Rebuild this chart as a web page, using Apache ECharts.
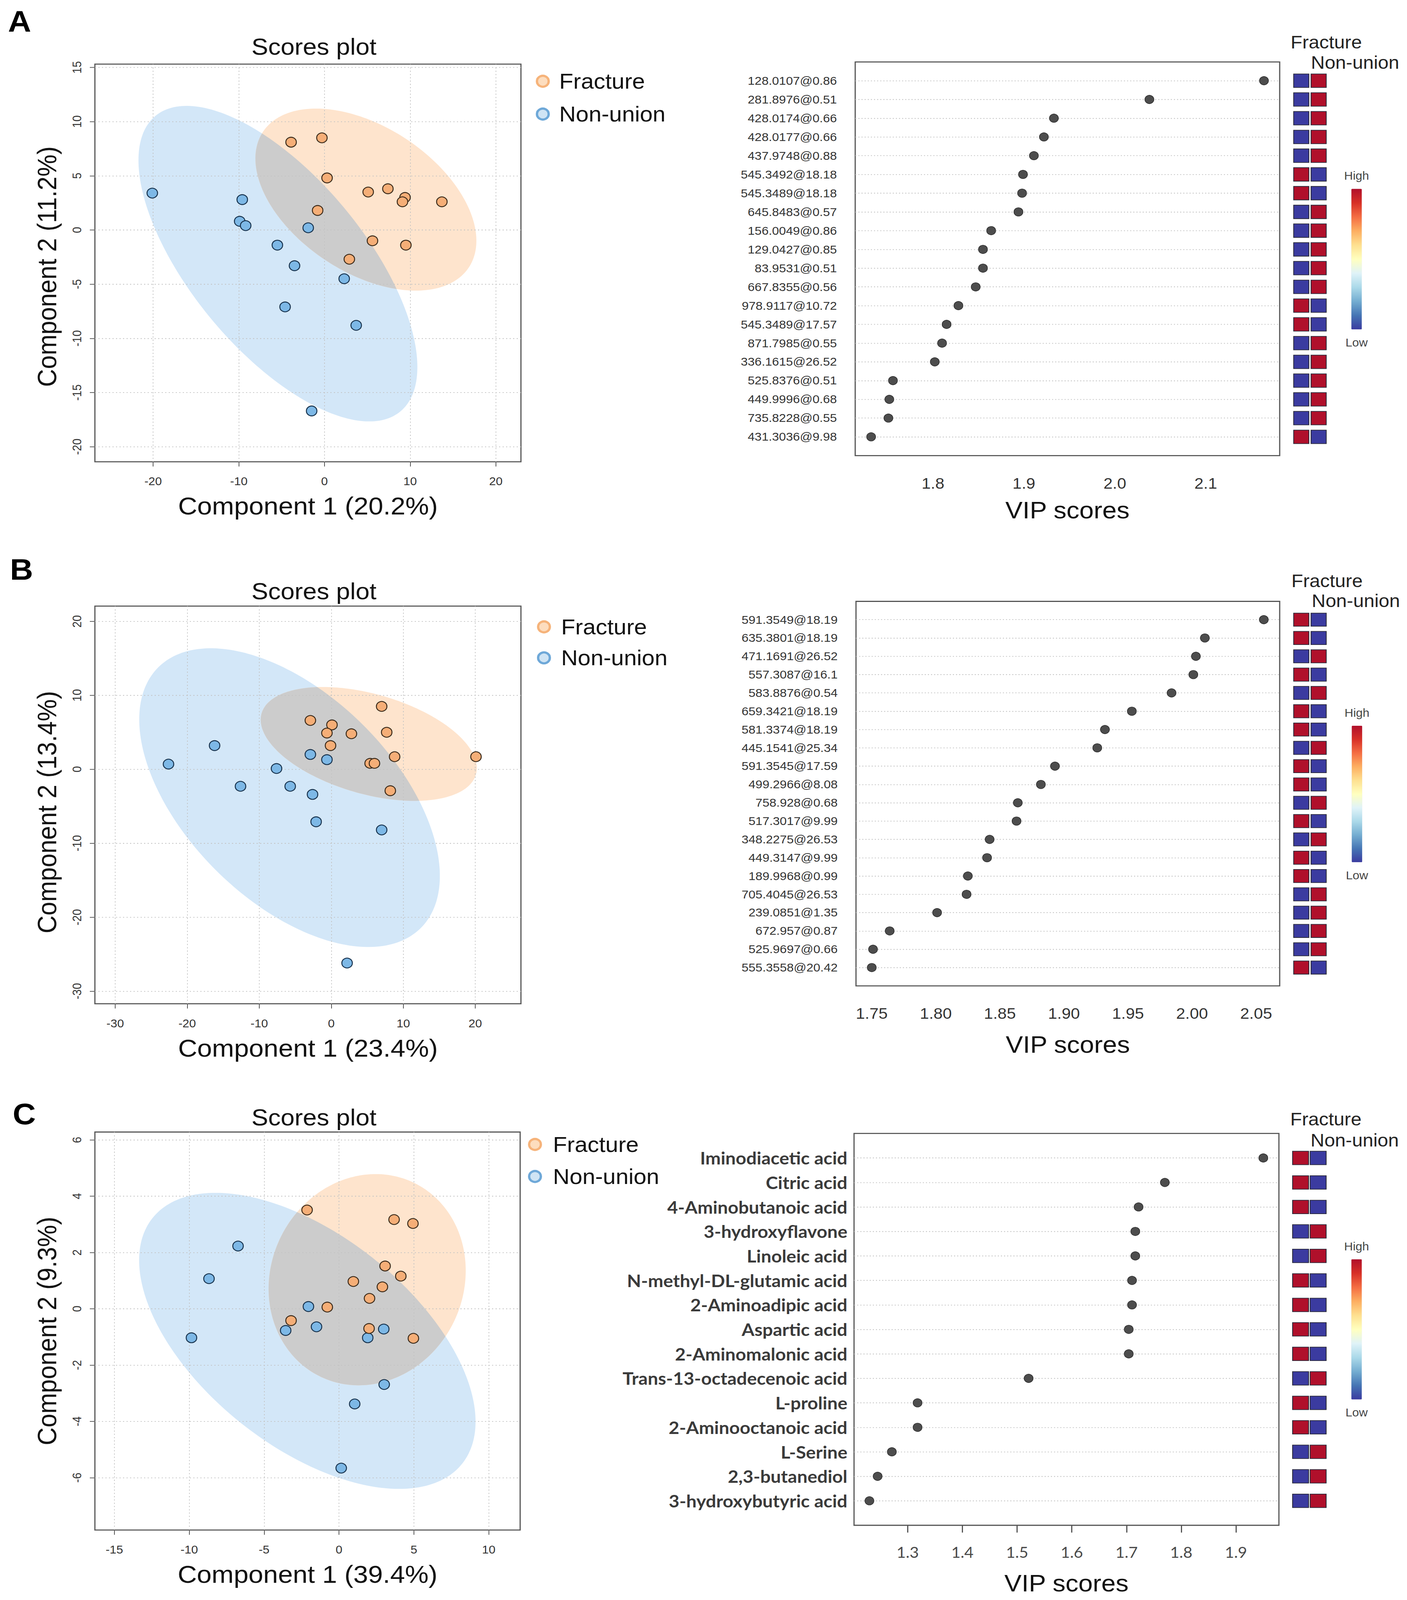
<!DOCTYPE html>
<html><head><meta charset="utf-8">
<script src="https://cdn.jsdelivr.net/npm/echarts@6/dist/echarts.min.js"></script>
<style>html,body{margin:0;padding:0;background:#fff;overflow:hidden}#c{width:3603px;height:4390px;transform-origin:0 0}</style>
</head><body><div id="c"></div>
<script>
// ---------------- DATA ----------------
const groups = ['Fracture', 'Non-union'];

// Scores (component 1, component 2)
const scoresA_fracture = [[-3.9,8.1],[-0.3,8.5],[0.3,4.8],[5.1,3.5],[7.4,3.8],[9.4,3.0],[9.1,2.6],[13.7,2.6],[-0.8,1.8],[5.6,-1.0],[9.5,-1.4],[2.9,-2.7]];
const scoresA_nonunion = [[-20.1,3.4],[-9.6,2.8],[-9.9,0.8],[-9.2,0.4],[-1.9,0.2],[-5.5,-1.4],[-3.5,-3.3],[2.3,-4.5],[-4.6,-7.1],[3.7,-8.8],[-1.5,-16.7]];
const scoresB_fracture = [[-2.9,6.6],[0.1,6.0],[-0.6,4.9],[2.8,4.8],[-0.1,3.2],[7.0,8.5],[7.7,5.0],[8.8,1.7],[5.4,0.8],[6.0,0.8],[8.2,-2.9],[20.1,1.7]];
const scoresB_nonunion = [[-22.6,0.7],[-16.2,3.2],[-12.6,-2.3],[-7.6,0.1],[-5.7,-2.3],[-2.9,2.0],[-0.6,1.3],[-2.6,-3.4],[-2.1,-7.1],[7.0,-8.2],[2.2,-26.2]];
const scoresC_fracture = [[-2.13,3.51],[3.68,3.17],[4.94,3.03],[3.08,1.52],[4.13,1.16],[0.96,0.97],[2.90,0.78],[2.04,0.37],[-0.78,0.06],[-3.20,-0.42],[2.01,-0.70],[4.97,-1.05]];
const scoresC_nonunion = [[-6.74,2.23],[-8.68,1.07],[-9.85,-1.03],[-2.04,0.08],[-3.56,-0.77],[-1.50,-0.64],[1.92,-1.03],[2.99,-0.72],[3.02,-2.69],[1.05,-3.38],[0.15,-5.66]];

const scoresA_xTicks = [-20,-10,0,10,20];
const scoresA_yTicks = [-20,-15,-10,-5,0,5,10,15];
const scoresB_xTicks = [-30,-20,-10,0,10,20];
const scoresB_yTicks = [-30,-20,-10,0,10,20];
const scoresC_xTicks = [-15,-10,-5,0,5,10];
const scoresC_yTicks = [-6,-4,-2,0,2,4,6];

// VIP features and scores
const vipA_features = ['128.0107@0.86','281.8976@0.51','428.0174@0.66','428.0177@0.66','437.9748@0.88','545.3492@18.18','545.3489@18.18','645.8483@0.57','156.0049@0.86','129.0427@0.85','83.9531@0.51','667.8355@0.56','978.9117@10.72','545.3489@17.57','871.7985@0.55','336.1615@26.52','525.8376@0.51','449.9996@0.68','735.8228@0.55','431.3036@9.98'];
const vipA_scores = [2.164,2.038,1.933,1.922,1.911,1.899,1.898,1.894,1.864,1.855,1.855,1.847,1.828,1.815,1.810,1.802,1.756,1.752,1.751,1.732];
const vipA_fractureHigh = [0,0,0,0,0,1,1,0,0,0,0,0,1,1,0,0,0,0,0,1];
const vipA_nonunionHigh = [1,1,1,1,1,0,0,1,1,1,1,1,0,0,1,1,1,1,1,0];
const vipA_ticks = [1.8,1.9,2.0,2.1];

const vipB_features = ['591.3549@18.19','635.3801@18.19','471.1691@26.52','557.3087@16.1','583.8876@0.54','659.3421@18.19','581.3374@18.19','445.1541@25.34','591.3545@17.59','499.2966@8.08','758.928@0.68','517.3017@9.99','348.2275@26.53','449.3147@9.99','189.9968@0.99','705.4045@26.53','239.0851@1.35','672.957@0.87','525.9697@0.66','555.3558@20.42'];
const vipB_scores = [2.056,2.010,2.003,2.001,1.984,1.953,1.932,1.926,1.893,1.882,1.864,1.863,1.842,1.840,1.825,1.824,1.801,1.764,1.751,1.750];
const vipB_fractureHigh = [1,1,0,1,0,1,1,0,1,1,0,1,0,1,1,0,0,0,0,1];
const vipB_nonunionHigh = [0,0,1,0,1,0,0,1,0,0,1,0,1,0,0,1,1,1,1,0];
const vipB_ticks = [1.75,1.80,1.85,1.90,1.95,2.00,2.05];

const vipC_features = ['Iminodiacetic acid','Citric acid','4-Aminobutanoic acid','3-hydroxyflavone','Linoleic acid','N-methyl-DL-glutamic acid','2-Aminoadipic acid','Aspartic acid','2-Aminomalonic acid','Trans-13-octadecenoic acid','L-proline','2-Aminooctanoic acid','L-Serine','2,3-butanediol','3-hydroxybutyric acid'];
const vipC_scores = [1.950,1.770,1.722,1.716,1.716,1.710,1.710,1.704,1.704,1.521,1.318,1.318,1.271,1.245,1.230];
const vipC_fractureHigh = [1,1,1,0,0,1,1,1,1,0,1,1,0,0,0];
const vipC_nonunionHigh = [0,0,0,1,1,0,0,0,0,1,0,0,1,1,1];
const vipC_ticks = [1.3,1.4,1.5,1.6,1.7,1.8,1.9];

// ---------------- LAYOUT / STYLE ----------------
const FONT = 'Liberation Sans';
const heatPalette = ['#3B3BA0','#4575B4','#74ADD1','#ABD9E9','#E0F3F8','#FFFFBF','#FEE090','#FDAE61','#F46D43','#D73027','#B0102B'];
const COL = {
  fr: '#F5AE77', nu: '#7DB8E6',
  frEll: '#FEE4CD', nuEll: '#D3E7F8', overlap: '#CCCCCC'
};

const panels = [
  { letter:'A', letterPos:[50,58], titleY:128,
    fr:scoresA_fracture, nu:scoresA_nonunion, xTicks:scoresA_xTicks, yTicks:scoresA_yTicks,
    xName:'Component 1 (20.2%)', yName:'Component 2 (11.2%)', yNamePad:[0,20,0,0],
    xExt:[-26.8,22.93], yExt:[-21.39,15.3], grid:[243,176,1091,1091],
    legend:{left:1372, top:193.5, iw:74, gap:31},
    feats:vipA_features, vip:vipA_scores, frH:vipA_fractureHigh, nuH:vipA_nonunionHigh, vTicks:vipA_ticks, digits:1,
    vExt:[1.7145,2.1813], vGrid:[2190,170,1087,1080], hGrid:[3310,170,89,1080], rows:21,
    cell:[39,37], hdr:[[3305,116],[3357,172]], vm:{left:3442, top:467, h:386},
    vLabel:{margin:47, fontSize:32, color:'#333', fontFamily:FONT}, vTick:false, vNameGap:117, vLabelMargin:55 },
  { letter:'B', letterPos:[55,1562], titleY:1622,
    fr:scoresB_fracture, nu:scoresB_nonunion, xTicks:scoresB_xTicks, yTicks:scoresB_yTicks,
    xName:'Component 1 (23.4%)', yName:'Component 2 (13.4%)', yNamePad:[0,40,0,0],
    xExt:[-32.82,26.34], yExt:[-31.7,22.06], grid:[243,1663,1091,1091],
    legend:{left:1375, top:1690.5, iw:78, gap:26},
    feats:vipB_features, vip:vipB_scores, frH:vipB_fractureHigh, nuH:vipB_nonunionHigh, vTicks:vipB_ticks, digits:2,
    vExt:[1.7377,2.0684], vGrid:[2192,1650,1085,1055], hGrid:[3310,1650,89,1055], rows:21,
    cell:[39,36], hdr:[[3307,1594],[3359,1649]], vm:{left:3443, top:1940, h:375},
    vLabel:{margin:47, fontSize:32, color:'#333', fontFamily:FONT}, vTick:false, vNameGap:128, vLabelMargin:55 },
  { letter:'C', letterPos:[62,3056], titleY:3066,
    fr:scoresC_fracture, nu:scoresC_nonunion, xTicks:scoresC_xTicks, yTicks:scoresC_yTicks,
    xName:'Component 1 (39.4%)', yName:'Component 2 (9.3%)', yNamePad:[0,0,0,0],
    xExt:[-16.3,12.1], yExt:[-7.86,6.28], grid:[243,3106,1089,1092],
    legend:{left:1352, top:3110.5, iw:82, gap:29},
    feats:vipC_features, vip:vipC_scores, frH:vipC_fractureHigh, nuH:vipC_nonunionHigh, vTicks:vipC_ticks, digits:1,
    vExt:[1.2019,1.9785], vGrid:[2187,3110,1088,1075], hGrid:[3308,3110,90,1075], rows:16,
    cell:[41,37], hdr:[[3304,3071],[3356,3129]], vm:{left:3442, top:3404, h:385},
    vLabel:{margin:17, fontSize:47, color:'#3a3a3a', fontFamily:'Lato', fontWeight:'bold'}, vTick:true, vNameGap:126, vLabelMargin:53 }
];

// 95% confidence ellipse from the group's own scores (counter-clockwise)
function confidenceEllipse(pts, n) {
  const m = pts.length;
  const mx = pts.reduce((s,p)=>s+p[0],0)/m, my = pts.reduce((s,p)=>s+p[1],0)/m;
  let sxx=0, syy=0, sxy=0;
  pts.forEach(p=>{const dx=p[0]-mx, dy=p[1]-my; sxx+=dx*dx; syy+=dy*dy; sxy+=dx*dy;});
  sxx/=(m-1); syy/=(m-1); sxy/=(m-1);
  const t = Math.sqrt(5.991464547);
  const tr = sxx+syy, det = sxx*syy-sxy*sxy;
  const disc = Math.sqrt(Math.max(tr*tr/4-det,0));
  const l1 = tr/2+disc, l2 = Math.max(tr/2-disc,0);
  const ang = 0.5*Math.atan2(2*sxy, sxx-syy);
  const out = [];
  for (let i=0;i<n;i++){
    const th = 2*Math.PI*i/n;
    const u = t*Math.sqrt(l1)*Math.cos(th), v = t*Math.sqrt(l2)*Math.sin(th);
    out.push([mx+u*Math.cos(ang)-v*Math.sin(ang), my+u*Math.sin(ang)+v*Math.cos(ang)]);
  }
  return out;
}
// Sutherland-Hodgman clip of subject polygon by convex CCW polygon
function clipPolygon(subject, clip) {
  let output = subject.slice();
  const inside = (p,a,b)=>((b[0]-a[0])*(p[1]-a[1])-(b[1]-a[1])*(p[0]-a[0]))>=0;
  const inter = (p,q,a,b)=>{
    const A1=q[1]-p[1], B1=p[0]-q[0], C1=A1*p[0]+B1*p[1];
    const A2=b[1]-a[1], B2=a[0]-b[0], C2=A2*a[0]+B2*a[1];
    const d=A1*B2-A2*B1; return [(B2*C1-B1*C2)/d,(A1*C2-A2*C1)/d];
  };
  for (let i=0;i<clip.length && output.length;i++){
    const a=clip[i], b=clip[(i+1)%clip.length];
    const input=output; output=[];
    for (let j=0;j<input.length;j++){
      const p=input[j], q=input[(j+1)%input.length];
      const pin=inside(p,a,b), qin=inside(q,a,b);
      if (pin){ output.push(p); if(!qin) output.push(inter(p,q,a,b)); }
      else if (qin){ output.push(inter(p,q,a,b)); }
    }
  }
  return output;
}

const grids=[], xAxes=[], yAxes=[], series=[], visualMaps=[], legends=[], graphics=[];
const gridLineStyle = {color:'#c2c2c2', width:2, type:[3,6]};

function polySeries(poly, fill, gi){
  return {type:'custom', name:'ellipse', xAxisIndex:gi, yAxisIndex:gi, silent:true, z:0, clip:true,
    data:[poly[0]],
    renderItem:(params, api)=>({type:'polygon', shape:{points:poly.map(p=>api.coord(p))}, style:{fill:fill}})};
}

panels.forEach((P, k) => {
  const gi = k*3;
  // ---- scores grid ----
  grids.push({left:P.grid[0], top:P.grid[1], width:P.grid[2], height:P.grid[3], show:true, borderColor:'#555', borderWidth:3, backgroundColor:'transparent'});
  xAxes.push({gridIndex:gi, type:'value', min:P.xExt[0], max:P.xExt[1], z:1,
    name:P.xName, nameLocation:'middle', nameGap:87, nameTextStyle:{fontSize:68, color:'#111', fontFamily:FONT},
    axisLine:{show:false, onZero:false},
    axisTick:{show:true, length:13, inside:false, customValues:P.xTicks, lineStyle:{color:'#555', width:2}},
    axisLabel:{customValues:P.xTicks, fontSize:31, color:'#333', margin:38, fontFamily:FONT},
    splitLine:{show:true, lineStyle:gridLineStyle}});
  yAxes.push({gridIndex:gi, type:'value', min:P.yExt[0], max:P.yExt[1], z:1,
    name:P.yName, nameLocation:'middle', nameGap:89, nameTextStyle:{fontSize:68, color:'#111', fontFamily:FONT, padding:P.yNamePad},
    axisLine:{show:false, onZero:false},
    axisTick:{show:true, length:13, inside:false, customValues:P.yTicks, lineStyle:{color:'#555', width:2}},
    axisLabel:{customValues:P.yTicks, fontSize:31, color:'#333', margin:30, rotate:90, fontFamily:FONT},
    splitLine:{show:true, lineStyle:gridLineStyle}});

  // ---- VIP grid ----
  grids.push({left:P.vGrid[0], top:P.vGrid[1], width:P.vGrid[2], height:P.vGrid[3], show:true, borderColor:'#555', borderWidth:3, backgroundColor:'transparent'});
  const rowIdx = P.feats.map((_,i)=>i+1);
  xAxes.push({gridIndex:gi+1, type:'value', min:P.vExt[0], max:P.vExt[1], z:1,
    name:'VIP scores', nameLocation:'middle', nameGap:P.vNameGap, nameTextStyle:{fontSize:66, color:'#111', fontFamily:FONT},
    axisLine:{show:false, onZero:false},
    axisTick:{show:P.vTick, length:20, customValues:P.vTicks, lineStyle:{color:'#555', width:3}},
    axisLabel:{customValues:P.vTicks, fontSize:P.vTick?41:42, color:P.vTick?'#4a4a4a':'#333', margin:P.vLabelMargin,
      fontFamily:P.vTick?'Lato':FONT, formatter:(v)=>Number(v).toFixed(P.digits)},
    splitLine:{show:false}});
  yAxes.push({gridIndex:gi+1, type:'value', min:0, max:P.rows, inverse:true, z:1,
    axisLine:{show:false, onZero:false},
    axisTick:{show:false, customValues:rowIdx},
    axisLabel:Object.assign({customValues:rowIdx, formatter:(v)=>P.feats[Math.round(v)-1]||''}, P.vLabel),
    splitLine:{show:true, lineStyle:{color:'#c4c4c4', width:2, type:[3,5]}}});

  // ---- heat grid ----
  grids.push({left:P.hGrid[0], top:P.hGrid[1], width:P.hGrid[2], height:P.hGrid[3], show:false});
  xAxes.push({gridIndex:gi+2, type:'category', data:groups, show:false, boundaryGap:true});
  yAxes.push({gridIndex:gi+2, type:'value', min:0, max:P.rows, inverse:true, show:false});

  // ---- series ----
  const ellNu = confidenceEllipse(P.nu, 240);
  const ellFr = confidenceEllipse(P.fr, 240);
  series.push(polySeries(ellNu, COL.nuEll, gi));
  series.push(polySeries(ellFr, COL.frEll, gi));
  series.push(polySeries(clipPolygon(ellFr, ellNu), COL.overlap, gi));
  series.push({type:'scatter', name:'Non-union', xAxisIndex:gi, yAxisIndex:gi, z:3, data:P.nu, symbolSize:27,
    itemStyle:{color:COL.nu, borderColor:'#17324d', borderWidth:2.5, opacity:1}});
  series.push({type:'scatter', name:'Fracture', xAxisIndex:gi, yAxisIndex:gi, z:3, data:P.fr, symbolSize:27,
    itemStyle:{color:COL.fr, borderColor:'#3a2a1a', borderWidth:2.5, opacity:1}});
  series.push({type:'scatter', name:'VIP', xAxisIndex:gi+1, yAxisIndex:gi+1, z:3,
    data:P.vip.map((v,i)=>[v, i+1]), symbolSize:23, itemStyle:{color:'#4d4d4d', borderColor:'#2a2a2a', borderWidth:1.5, opacity:1}});
  const heatData = [];
  P.feats.forEach((_,i)=>{ heatData.push([0, i+1, P.frH[i]]); heatData.push([1, i+1, P.nuH[i]]); });
  const heatIdx = series.length;
  series.push({type:'scatter', name:'heat', xAxisIndex:gi+2, yAxisIndex:gi+2, z:3, data:heatData,
    symbol:'rect', symbolSize:P.cell, itemStyle:{borderColor:'#2a2a3a', borderWidth:2, opacity:1}});

  visualMaps.push({type:'continuous', min:0, max:1, seriesIndex:heatIdx, dimension:2, orient:'vertical',
    left:P.vm.left, top:P.vm.top, itemWidth:27, itemHeight:P.vm.h, text:['High','Low'], textGap:20, padding:0,
    calculable:false, hoverLink:false, inRange:{color:heatPalette},
    textStyle:{fontSize:31, color:'#444', fontFamily:FONT}});

  legends.push({orient:'vertical', left:P.legend.left, top:P.legend.top, padding:0,
    itemWidth:P.legend.iw, itemHeight:30, itemGap:P.legend.gap, selectedMode:false,
    textStyle:{fontSize:59, color:'#111', fontFamily:FONT},
    data:[
      {name:'Fracture', icon:'circle', itemStyle:{color:'#FDDDBE', borderColor:'#F6B37A', borderWidth:6}},
      {name:'Non-union', icon:'circle', itemStyle:{color:'#CFE4F4', borderColor:'#6EA8D8', borderWidth:6}}
    ]});

  graphics.push({type:'text', x:P.letterPos[0], y:P.letterPos[1],
    style:{text:P.letter, font:'bold 82px "'+FONT+'"', fill:'#000', textAlign:'center', textVerticalAlign:'middle', align:'center', verticalAlign:'middle'}});
  graphics.push({type:'text', x:804, y:P.titleY,
    style:{text:'Scores plot', font:'64px "'+FONT+'"', fill:'#111', textAlign:'center', textVerticalAlign:'middle', align:'center', verticalAlign:'middle'}});
  groups.forEach((g, j) => {
    graphics.push({type:'text', x:P.hdr[j][0], y:P.hdr[j][1],
      style:{text:g, font:'49px "'+FONT+'"', fill:'#222', textAlign:'left', textVerticalAlign:'middle', align:'left', verticalAlign:'middle'}});
  });
});

// The browser viewport may be shorter than the 4390px figure: fit the full figure into it.
const host = document.getElementById('c');
const fit = Math.min(1, (window.innerHeight || 4390) / 4390);
if (fit < 1) host.style.transform = 'scale(1,' + fit + ')';

const chart = echarts.init(host, null, {renderer:'svg', width:3603, height:4390});
chart.setOption({
  animation:false,
  backgroundColor:'#ffffff',
  textStyle:{fontFamily:FONT},
  grid:grids, xAxis:xAxes, yAxis:yAxes, series:series,
  visualMap:visualMaps, legend:legends, graphic:graphics
});
</script></body></html>
